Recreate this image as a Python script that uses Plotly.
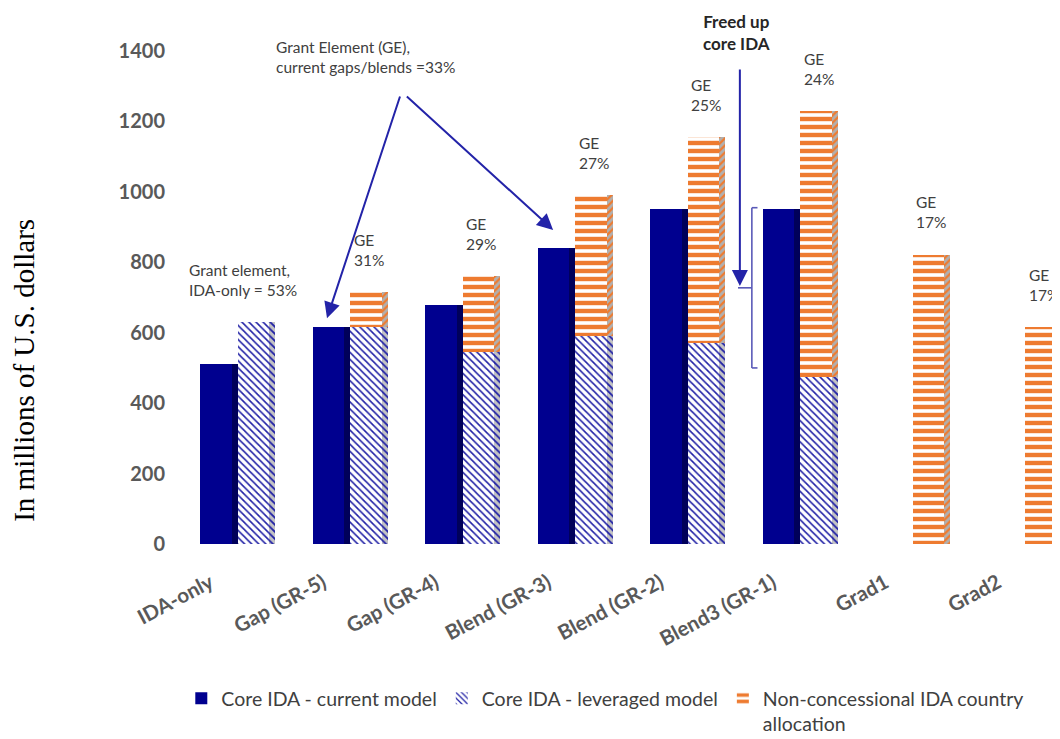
import plotly.graph_objects as go

# ---------------- data ----------------
categories = ["IDA-only", "Gap (GR-5)", "Gap (GR-4)", "Blend (GR-3)",
              "Blend (GR-2)", "Blend3 (GR-1)", "Grad1", "Grad2"]
core_current = [510, 615, 680, 840, 950, 950, 0, 0]
core_leveraged = [630, 615, 545, 590, 570, 475, 0, 0]
nonconcessional = [0, 100, 215, 400, 585, 755, 822, 616]
ge_labels = [None, "31%", "29%", "27%", "25%", "24%", "17%", "17%"]
y_ticks = [0, 200, 400, 600, 800, 1000, 1200, 1400]

# annotation anchor values (in millions)
freed_top = 955
freed_bottom = 500

# ---------------- layout helpers ----------------
SLOTS = 3                      # current, leveraged+nonconcessional, spacer
front_w = 0.85
side_w = 0.16
side_off = front_w / 2 + side_w / 2

x_cur = [SLOTS * i for i in range(len(categories))]
x_lev = [SLOTS * i + 1 for i in range(len(categories))]
stack_tot = [a + b for a, b in zip(core_leveraged, nonconcessional)]

NAVY = "#00008F"
NAVY_SIDE = "#00005A"
HATCH = "#2222A6"
ORANGE = "#EE7B30"
SIDE_BG = "#A8A8A8"
FONT = "Lato, Carlito, sans-serif"

fig = go.Figure()

# Core IDA - current model (front + side face)
fig.add_trace(go.Bar(
    x=x_cur, y=core_current, width=front_w, name="Core IDA - current model",
    marker=dict(color=NAVY, line=dict(width=0)),
))
fig.add_trace(go.Bar(
    x=[v + side_off for v in x_cur], y=core_current, width=side_w,
    marker=dict(color=NAVY_SIDE, line=dict(width=0)), showlegend=False,
    hoverinfo="skip",
))

# Core IDA - leveraged model (front + side face)
fig.add_trace(go.Bar(
    x=x_lev, y=core_leveraged, width=front_w, name="Core IDA - leveraged model",
    marker=dict(color="white", line=dict(width=0),
                pattern=dict(shape="\\", fgcolor=HATCH, bgcolor="white",
                             fgopacity=1, size=5, solidity=0.32)),
))
fig.add_trace(go.Bar(
    x=[v + side_off for v in x_lev], y=core_leveraged, width=side_w,
    marker=dict(color=SIDE_BG, line=dict(width=0),
                pattern=dict(shape="\\", fgcolor=HATCH, bgcolor="#C4C4C4",
                             fgopacity=1, size=5, solidity=0.35)),
    showlegend=False, hoverinfo="skip",
))

# Non-concessional (stacked on leveraged)
fig.add_trace(go.Bar(
    x=x_lev, y=nonconcessional, base=core_leveraged, width=front_w,
    name="Non-concessional IDA country<br>allocation",
    marker=dict(color="white", line=dict(width=0),
                pattern=dict(shape="-", fgcolor=ORANGE, bgcolor="white",
                             fgopacity=1, size=8, solidity=0.55)),
))
fig.add_trace(go.Bar(
    x=[v + side_off for v in x_lev], y=nonconcessional, base=core_leveraged,
    width=side_w,
    marker=dict(color=SIDE_BG, line=dict(width=0),
                pattern=dict(shape="/", fgcolor=ORANGE, bgcolor="#B0B0B0",
                             fgopacity=1, size=5, solidity=0.45)),
    showlegend=False, hoverinfo="skip",
))

annotations = []
TXT = "#404040"
AFONT = dict(family=FONT, size=15.5, color=TXT)

# GE labels above stacks
for xi, tot, lab in zip(x_lev, stack_tot, ge_labels):
    if lab is None:
        continue
    annotations.append(dict(
        x=xi - 0.38, y=tot + 60, xref="x", yref="y", text="GE<br>" + lab,
        showarrow=False, xanchor="left", yanchor="bottom", align="left",
        font=AFONT,
    ))

annotations.append(dict(
    x=-0.004, y=0.578, xref="paper", yref="paper",
    text="Grant element,<br>IDA-only = 53%", showarrow=False,
    xanchor="left", yanchor="top", align="left", font=AFONT,
))
annotations.append(dict(
    x=0.097, y=1.03, xref="paper", yref="paper",
    text="Grant Element (GE),<br>current gaps/blends =33%", showarrow=False,
    xanchor="left", yanchor="top", align="left", font=AFONT,
))
annotations.append(dict(
    x=0.6276, y=1.083, xref="paper", yref="paper",
    text="<b>Freed up<br>core IDA</b>", showarrow=False,
    xanchor="center", yanchor="top", align="center", borderpad=0,
    font=dict(family=FONT, size=17, color="#262626"),
))

ARROW = "#2323A8"
for tip_x, tip_y, tail_x in [(x_cur[1] - 0.04, core_current[1] + 26, 4.92),
                             (x_cur[3] - 0.01, core_current[3] + 52, 5.05)]:
    annotations.append(dict(
        x=tip_x, y=tip_y, ax=tail_x, ay=1275, xref="x", yref="y",
        axref="x", ayref="y", text="", showarrow=True, arrowhead=2,
        arrowsize=1.6, arrowwidth=2, arrowcolor=ARROW,
    ))
freed_mid = (freed_top + freed_bottom) / 2
annotations.append(dict(
    x=x_cur[4] + 2.0 - 0.03, y=freed_mid + 5, ax=x_cur[4] + 2.0 - 0.03, ay=1352,
    xref="x", yref="y", axref="x", ayref="y", text="", showarrow=True,
    arrowhead=2, arrowsize=1.6, arrowwidth=2, arrowcolor=ARROW,
))

# y-axis title
annotations.append(dict(
    x=-0.191, y=0.353, xref="paper", yref="paper", text="In millions of U.S. dollars",
    textangle=-90, showarrow=False, xanchor="center", yanchor="middle",
    font=dict(family="Liberation Serif, Times New Roman, serif", size=29, color="black"),
))

BR = "#5A5AB8"
bx = x_cur[4] + 2.29
shapes = [
    dict(type="line", xref="x", yref="y", x0=bx, x1=bx, y0=freed_bottom, y1=freed_top,
         line=dict(color=BR, width=1.6)),
    dict(type="line", xref="x", yref="y", x0=bx, x1=bx + 0.15, y0=freed_top, y1=freed_top,
         line=dict(color=BR, width=1.6)),
    dict(type="line", xref="x", yref="y", x0=bx, x1=bx + 0.15, y0=freed_bottom, y1=freed_bottom,
         line=dict(color=BR, width=1.6)),
    dict(type="line", xref="x", yref="y", x0=bx - 0.37, x1=bx, y0=freed_mid, y1=freed_mid,
         line=dict(color=BR, width=1.6)),
]

# page body has an 8px margin, so the figure is sized/offset to compensate
fig.update_layout(
    width=1052, height=731,
    margin=dict(l=182, r=0, t=43, b=195, autoexpand=False),
    paper_bgcolor="white", plot_bgcolor="white",
    barmode="overlay", bargap=0,
    showlegend=True,
    legend=dict(orientation="h", x=-0.01, xanchor="left", y=-0.274, yanchor="top",
                font=dict(family=FONT, size=19.5, color=TXT),
                valign="top", itemwidth=30, traceorder="normal"),
    annotations=annotations,
    shapes=shapes,
    xaxis=dict(range=[-0.693, 22.507], tickvals=[v - 0.15 for v in x_cur],
               ticktext=categories, tickangle=-28, showgrid=False,
               showline=False, zeroline=False, ticks="outside", ticklen=18,
               tickcolor="rgba(0,0,0,0)",
               tickfont=dict(family=FONT, size=20.5, color="#595959", weight="bold")),
    yaxis=dict(range=[0, 1400], tickvals=y_ticks, showgrid=False, showline=False,
               zeroline=False, ticks="outside", ticklen=20,
               tickcolor="rgba(0,0,0,0)",
               tickfont=dict(family=FONT, size=20, color="#595959", weight="bold")),
)

fig.write_html("out.html")
